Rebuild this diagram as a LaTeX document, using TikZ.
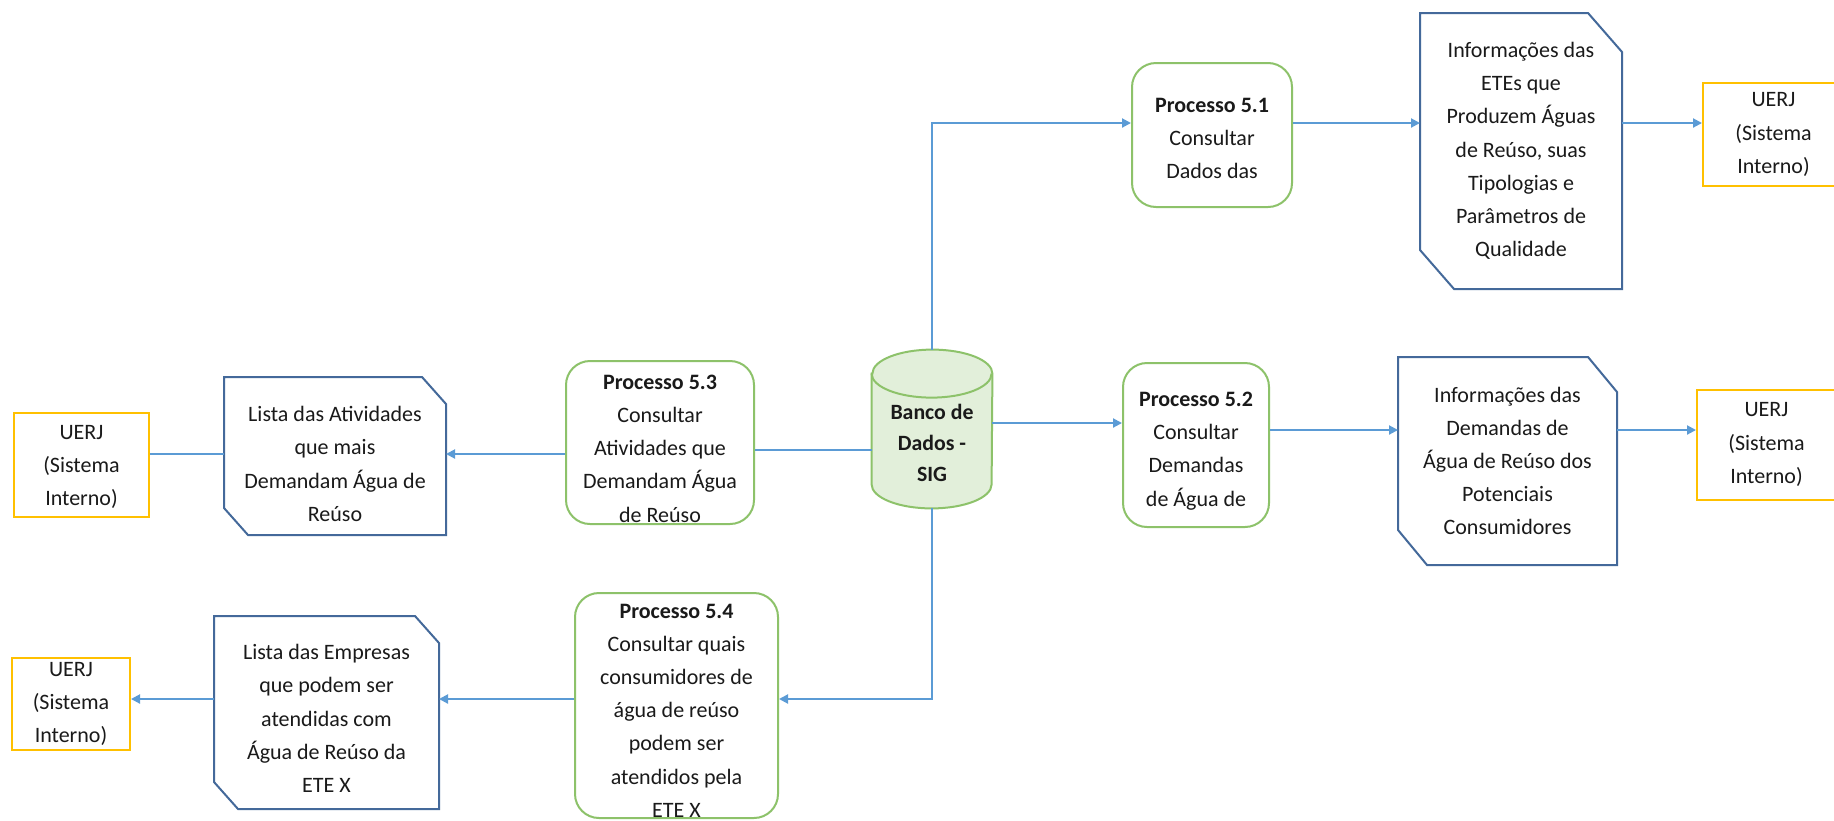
\documentclass[tikz,border=0pt]{standalone}
\usepackage{fontspec}
\setmainfont{Carlito}
\usetikzlibrary{arrows.meta,calc}

\definecolor{procgreen}{HTML}{8DC26A}
\definecolor{dbfill}{HTML}{E2EFDA}
\definecolor{docblue}{HTML}{44699A}
\definecolor{uerjgold}{HTML}{FFC000}
\definecolor{linkblue}{HTML}{5B9BD5}
\definecolor{ink}{HTML}{1A1A1A}

\newcommand\boxfont{\fontsize{11}{16.6}\selectfont}
\newcommand\dbfont{\fontsize{10.9}{15.5}\selectfont\bfseries}

% outline of a document box with the top-right and bottom-left corners snipped
\newcommand\snipframe[3]{%
  \draw[docline] (#1.north west) -- ([xshift=-#2]#1.north east)
    -- ([yshift=-#3]#1.north east) -- (#1.south east)
    -- ([xshift=#2]#1.south west) -- ([yshift=#3]#1.south west) -- cycle;}

\begin{document}
\begin{tikzpicture}[x=0.5pt,y=-0.5pt,
  txt/.style={align=center,font=\boxfont,text=ink,inner sep=0pt},
  procbox/.style={draw=procgreen,line width=1pt,rounded corners=12pt,fill=white,inner sep=0pt},
  docbox/.style={inner sep=0pt,outer sep=0pt},
  docline/.style={draw=docblue,line width=1pt,line join=miter},
  extbox/.style={draw=uerjgold,line width=1pt,fill=white,inner sep=0pt},
  dbline/.style={draw=procgreen,line width=1pt},
  link/.style={draw=linkblue,line width=1pt},
  flow/.style={link,-{Triangle[length=4.5pt,width=4.5pt]}}]

\useasboundingbox[fill=white] (0,0) rectangle (1834,820);

% data store
\node[inner sep=0pt,minimum width=60pt,minimum height=79pt] (db) at (932,429) {};
\draw[dbline,fill=dbfill] ([yshift=-12pt]db.north west) -- ([yshift=12pt]db.south west)
  arc[start angle=180,end angle=360,x radius=30pt,y radius=12pt]
  -- ([yshift=-12pt]db.north east)
  arc[start angle=0,end angle=180,x radius=30pt,y radius=12pt] -- cycle;
\draw[dbline] ([yshift=-12pt]db.north west)
  arc[start angle=180,end angle=360,x radius=30pt,y radius=12pt];
\node[align=center,font=\dbfont,text=ink,inner sep=0pt] (dbtext) at ([yshift=-7pt]db.center)
  {Banco de\\Dados -\\SIG};

% processes
\node[procbox,minimum width=80pt,minimum height=72pt,
  label={[txt,yshift=-1.75pt]center:{\textbf{Processo 5.1}\\Consultar\\Dados das}}] (p51) at (1212,135) {};
\node[procbox,minimum width=73pt,minimum height=82pt,
  label={[txt,yshift=-3pt]center:{\textbf{Processo 5.2}\\Consultar\\Demandas\\de Água de}}] (p52) at (1196,445) {};
\node[procbox,minimum width=94pt,minimum height=81.5pt,
  label={[txt,yshift=-3pt]center:{\textbf{Processo 5.3}\\Consultar\\Atividades que\\Demandam Água\\de Reúso}}] (p53) at (660,442.5) {};
\node[procbox,minimum width=101.5pt,minimum height=112.5pt,
  label={[txt,yshift=-2.5pt]center:{\textbf{Processo 5.4}\\Consultar quais\\consumidores de\\água de reúso\\podem ser\\atendidos pela\\ETE X}}] (p54) at (676.5,705.5) {};

% documents
\node[docbox,minimum width=101pt,minimum height=138pt,
  label={[txt]center:{Informações das\\ETEs que\\Produzem Águas\\de Reúso, suas\\Tipologias e\\Parâmetros de\\Qualidade}}] (doc1) at (1521,151) {};
\snipframe{doc1}{17pt}{19.5pt}
\node[docbox,minimum width=109.5pt,minimum height=104pt,
  label={[txt]center:{Informações das\\Demandas de\\Água de Reúso dos\\Potenciais\\Consumidores}}] (doc2) at (1507.5,461) {};
\snipframe{doc2}{14.5pt}{17.5pt}
\node[docbox,minimum width=111pt,minimum height=79pt,
  label={[txt,yshift=-4pt]center:{Lista das Atividades\\que mais\\Demandam Água de\\Reúso}}] (doc3) at (335,456) {};
\snipframe{doc3}{12pt}{13.5pt}
\node[docbox,minimum width=112.5pt,minimum height=96.5pt,
  label={[txt,yshift=-3pt]center:{Lista das Empresas\\que podem ser\\atendidas com\\Água de Reúso da\\ETE X}}] (doc4) at (326.5,712.5) {};
\snipframe{doc4}{12pt}{13.5pt}

% external entities
\node[extbox,minimum width=68.5pt,minimum height=51.5pt,
  label={[txt,xshift=1pt]center:{UERJ\\(Sistema\\Interno)}}] (u1) at (1771.5,134.5) {};
\node[extbox,minimum width=71.5pt,minimum height=55pt,
  label={[txt,xshift=-1pt]center:{UERJ\\(Sistema\\Interno)}}] (u2) at (1768.5,444.5) {};
\node[extbox,minimum width=67.5pt,minimum height=52pt,
  label={[txt,yshift=-1pt]center:{UERJ\\(Sistema\\Interno)}}] (u3) at (81.5,465) {};
\node[extbox,minimum width=59pt,minimum height=46pt,
  label={[txt]center:{UERJ\\(Sistema\\Interno)}}] (u4) at (71,704) {};

% heights of the connector runs
\coordinate (ya) at (0,123);
\coordinate (yb) at (0,423);
\coordinate (yc) at (0,430);
\coordinate (yd) at (0,450);
\coordinate (ye) at (0,454);
\coordinate (yf) at (0,699);

% data flows
\draw[flow] (db.north) |- (p51.west |- ya);
\draw[flow] (p51.east |- ya) -- (doc1.west |- ya);
\draw[flow] (doc1.east |- ya) -- (u1.west |- ya);
\draw[flow] (db.east |- yb) -- (p52.west |- yb);
\draw[flow] (p52.east |- yc) -- (doc2.west |- yc);
\draw[flow] (doc2.east |- yc) -- (u2.west |- yc);
\draw[link] (p53.east |- yd) -- (db.west |- yd);
\draw[flow] (p53.west |- ye) -- (doc3.east |- ye);
\draw[link] (doc3.west |- ye) -- (u3.east |- ye);
\draw[flow] (db.south) |- (p54.east |- yf);
\draw[flow] (p54.west |- yf) -- (doc4.east |- yf);
\draw[flow] (doc4.west |- yf) -- (u4.east |- yf);
\end{tikzpicture}
\end{document}
